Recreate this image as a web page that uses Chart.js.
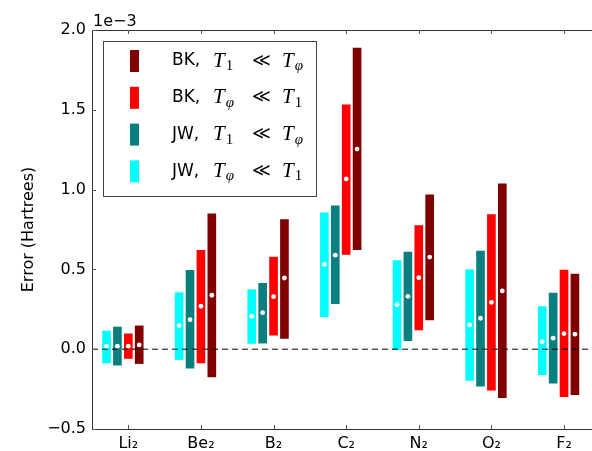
<!DOCTYPE html>
<html><head><meta charset="utf-8">
<script src="https://cdn.jsdelivr.net/npm/chart.js@4/dist/chart.umd.min.js"></script>
<style>html,body{margin:0;padding:0;background:#fff;overflow:hidden}#wrap{width:592px;height:451px;position:relative}</style>
</head><body><div id="wrap"><canvas id="c"></canvas></div>
<script>
const categories = ['Li₂','Be₂','B₂','C₂','N₂','O₂','F₂'];
const seriesLabels = ['JW, T_φ ≪ T_1', 'JW, T_1 ≪ T_φ', 'BK, T_φ ≪ T_1', 'BK, T_1 ≪ T_φ'];
const seriesColors = ['#00FFFF', '#0A7F7F', '#FF0000', '#800000'];
const seriesOffsets = [-0.3, -0.15, 0, 0.15];
const yTicks = [-0.5, 0.0, 0.5, 1.0, 1.5, 2.0];

// JW, Tphi << T1 (cyan)
const jwPhiLow  = [-0.086, -0.065, 0.036, 0.204, -0.002, -0.196, -0.160];
const jwPhiHigh = [ 0.114,  0.354, 0.373, 0.854,  0.556,  0.498,  0.267];
const jwPhiMean = [ 0.019,  0.148, 0.206, 0.531,  0.279,  0.152,  0.048];
// JW, T1 << Tphi (teal)
const jwT1Low  = [-0.100, -0.119, 0.038, 0.286, 0.054, -0.231, -0.213];
const jwT1High = [ 0.139,  0.494, 0.413, 0.898, 0.608,  0.615,  0.352];
const jwT1Mean = [ 0.019,  0.185, 0.229, 0.589, 0.331,  0.194,  0.069];
// BK, Tphi << T1 (red)
const bkPhiLow  = [-0.058, -0.086, 0.088, 0.594, 0.121, -0.256, -0.298];
const bkPhiHigh = [ 0.096,  0.619, 0.577, 1.531, 0.775,  0.844,  0.496];
const bkPhiMean = [ 0.019,  0.269, 0.329, 1.067, 0.448,  0.294,  0.098];
// BK, T1 << Tphi (dark red)
const bkT1Low  = [-0.090, -0.173, 0.067, 0.623, 0.183, -0.304, -0.285];
const bkT1High = [ 0.146,  0.848, 0.8125, 1.886, 0.967, 1.036,  0.471];
const bkT1Mean = [ 0.027,  0.338, 0.446, 1.254, 0.577,  0.365,  0.094];

const lows = [jwPhiLow, jwT1Low, bkPhiLow, bkT1Low];
const highs = [jwPhiHigh, jwT1High, bkPhiHigh, bkT1High];
const means = [jwPhiMean, jwT1Mean, bkPhiMean, bkT1Mean];

const datasets = [];
for (let s = 0; s < 4; s++) {
  datasets.push({
    type: 'scatter', label: seriesLabels[s] + ' mean', order: 0,
    data: means[s].map((v, i) => ({x: i + seriesOffsets[s], y: v})),
    pointRadius: 2.4, pointBackgroundColor: '#ffffff', pointBorderWidth: 0, showLine: false
  });
}
datasets.push({
  type: 'line', label: 'zero', order: 1,
  data: [{x: -0.5, y: 0}, {x: 6.5, y: 0}],
  borderColor: '#000', borderWidth: 1, borderDash: [6, 4], pointRadius: 0, fill: false
});
for (let s = 0; s < 4; s++) {
  datasets.push({
    type: 'bar', label: seriesLabels[s], order: 2,
    data: lows[s].map((v, i) => ({x: i + seriesOffsets[s], y: [v, highs[s][i]]})),
    backgroundColor: seriesColors[s], borderWidth: 0, barThickness: 8, grouped: false
  });
}

function drawMathLabel(ctx, label, x0, y) {
  const parts = label.split(' ');
  const xs = [x0, 213, 252, 282];
  ctx.textBaseline = 'middle';
  ctx.fillStyle = '#000';
  ctx.font = '17px "DejaVu Sans"';
  ctx.fillText(parts[0], xs[0], y);
  for (let k = 1; k < parts.length; k++) {
    const p = parts[k];
    let x = xs[k];
    if (p.indexOf('_') >= 0) {
      const [base, sub] = p.split('_');
      ctx.font = 'italic 21px "Liberation Serif"';
      ctx.fillText(base, x, y);
      x += ctx.measureText(base).width + 1;
      ctx.font = (sub === 'φ' ? 'italic ' : '') + '15px "Liberation Serif"';
      ctx.fillText(sub, x, y + 5);
    } else {
      ctx.font = '18px "DejaVu Sans"';
      ctx.fillText(p, x, y);
    }
  }
}

const framePlugin = {
  id: 'frame',
  afterDraw(chart) {
    const ctx = chart.ctx, a = chart.chartArea;
    const xs = chart.scales.x, ys = chart.scales.y;
    ctx.save();
    ctx.strokeStyle = '#333'; ctx.lineWidth = 1;
    ctx.beginPath();
    ctx.moveTo(a.left + 0.5, a.top + 0.5); ctx.lineTo(a.left + 0.5, a.bottom + 0.5);
    ctx.moveTo(a.left, a.top + 0.5); ctx.lineTo(chart.width, a.top + 0.5);
    ctx.moveTo(a.left, a.bottom + 0.5); ctx.lineTo(chart.width, a.bottom + 0.5);
    ctx.stroke();
    ctx.strokeStyle = '#555';
    ctx.beginPath();
    for (let i = 0; i < categories.length; i++) {
      const px = Math.round(xs.getPixelForValue(i)) + 0.5;
      ctx.moveTo(px, a.bottom); ctx.lineTo(px, a.bottom - 4);
      ctx.moveTo(px, a.top); ctx.lineTo(px, a.top + 4);
    }
    for (const t of yTicks) {
      const py = Math.round(ys.getPixelForValue(t)) + 0.5;
      ctx.moveTo(a.left, py); ctx.lineTo(a.left + 4, py);
    }
    ctx.stroke();
    ctx.fillStyle = '#000';
    ctx.font = '16px "DejaVu Sans"';
    ctx.textBaseline = 'alphabetic';
    ctx.fillText('1e\u22123', a.left + 1, a.top - 4);
    const lx = 103, ly = 41, lw = 213, lh = 155;
    ctx.fillStyle = '#fff';
    ctx.fillRect(lx, ly, lw, lh);
    ctx.strokeStyle = '#444';
    ctx.strokeRect(lx + 0.5, ly + 0.5, lw, lh);
    for (let r = 0; r < 4; r++) {
      const s = 3 - r;
      const cy = 61 + r * 36.8;
      ctx.fillStyle = seriesColors[s];
      ctx.fillRect(130, cy - 11, 9, 22);
      drawMathLabel(ctx, seriesLabels[s], 172, cy);
    }
    ctx.restore();
  }
};

new Chart(document.getElementById('c'), {
  type: 'bar',
  data: {datasets},
  options: {
    responsive: true, maintainAspectRatio: false, animation: false,
    layout: {padding: {top: 30, right: 0, left: 0, bottom: 0}},
    plugins: {legend: {display: false}, tooltip: {enabled: false}},
    scales: {
      x: {
        type: 'linear', min: -0.5, max: 6.33, offset: false,
        grid: {display: false, drawTicks: false, offset: false},
        border: {display: false},
        afterBuildTicks(s) { s.ticks = categories.map((c, i) => ({value: i})); },
        afterFit(s) { s.height = 22; },
        ticks: {
          padding: 5, color: '#000', font: {family: 'DejaVu Sans', size: 16},
          autoSkip: false, maxRotation: 0,
          callback: (v) => categories[v] !== undefined ? categories[v] : ''
        }
      },
      y: {
        type: 'linear', min: -0.5, max: 2.0,
        grid: {display: false, drawTicks: false},
        border: {display: false},
        afterBuildTicks(s) { s.ticks = yTicks.map(v => ({value: v})); },
        afterFit(s) { s.width = 92; },
        ticks: {
          padding: 6, color: '#000', font: {family: 'DejaVu Sans', size: 16},
          callback: (v) => (v < 0 ? '\u2212' : '') + Math.abs(v).toFixed(1)
        },
        title: {display: true, text: 'Error (Hartrees)', color: '#000',
          font: {family: 'DejaVu Sans', size: 16}, padding: {top: 19, bottom: 0}}
      }
    }
  },
  plugins: [framePlugin]
});
</script></body></html>
